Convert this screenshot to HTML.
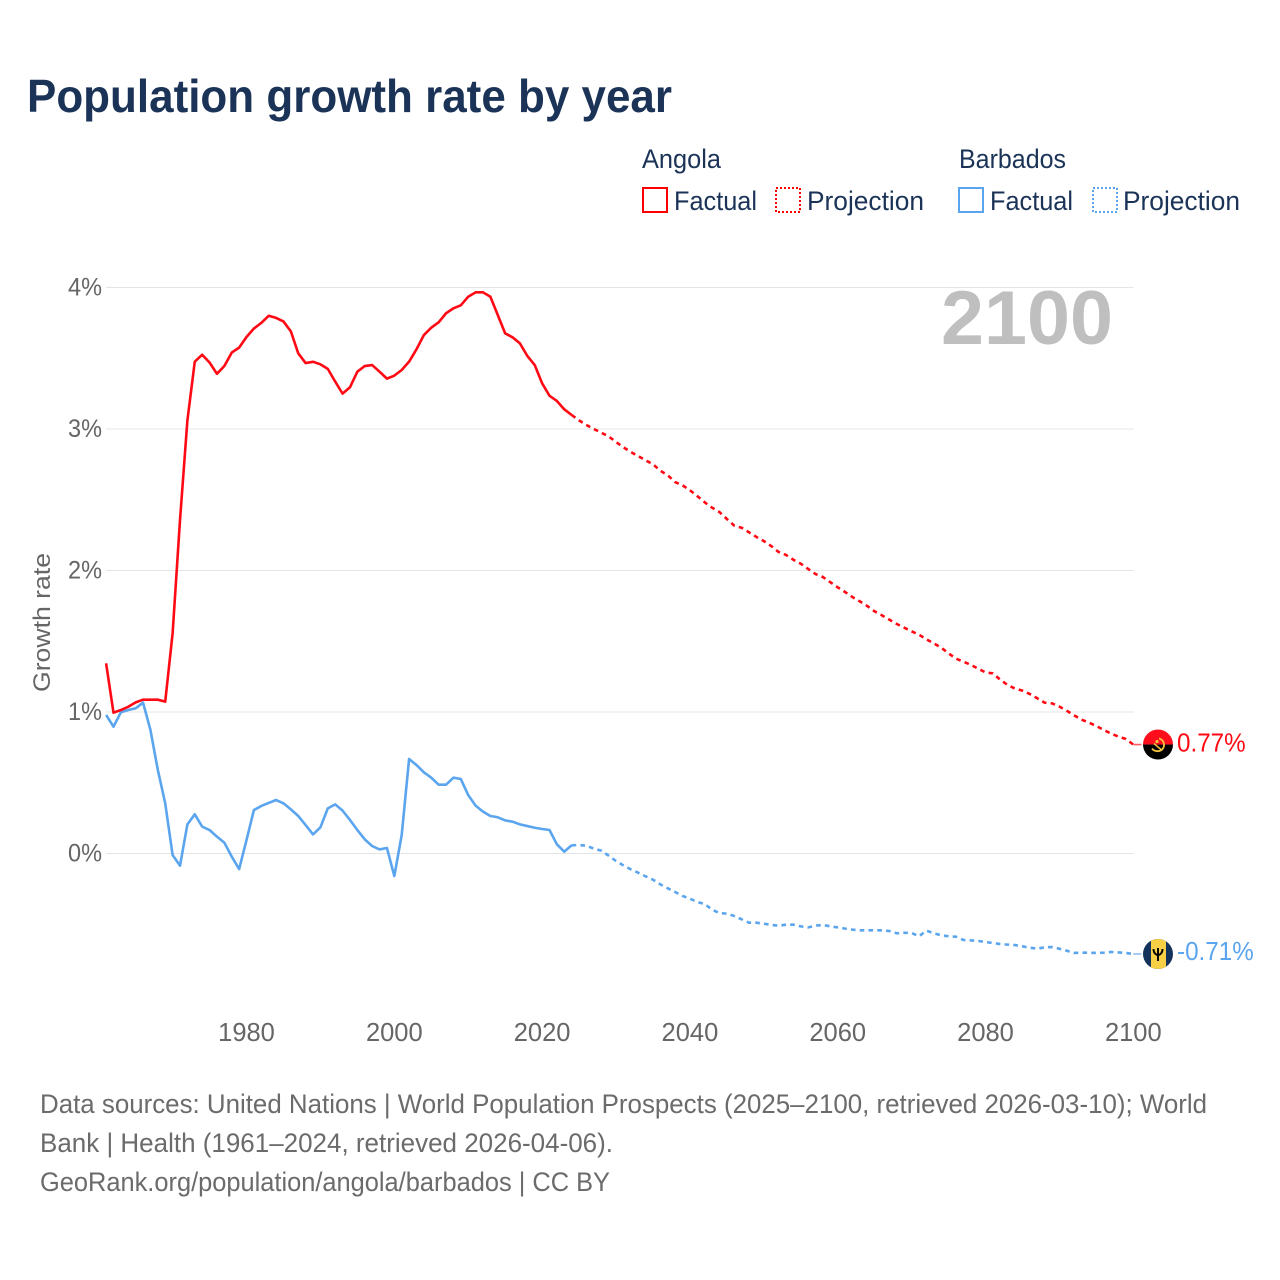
<!DOCTYPE html>
<html lang="en">
<head>
<meta charset="utf-8">
<title>Population growth rate by year</title>
<style>
html,body{margin:0;padding:0;background:#fff;}
svg{display:block;font-family:"Liberation Sans",sans-serif;}
</style>
</head>
<body>
<svg id="chart" xmlns="http://www.w3.org/2000/svg" width="1280" height="1280" viewBox="0 0 1280 1280">
  <rect width="1280" height="1280" fill="#ffffff"/>
  <text x="27" y="112" font-size="46" font-weight="700" fill="#1a3357" textLength="645" lengthAdjust="spacingAndGlyphs">Population growth rate by year</text>

  <g font-size="27" fill="#1a3357">
    <text x="642" y="168" textLength="79" lengthAdjust="spacingAndGlyphs">Angola</text>
    <rect x="643" y="188" width="24" height="24" fill="none" stroke="#ff0000" stroke-width="2"/>
    <text x="674" y="210" textLength="83" lengthAdjust="spacingAndGlyphs">Factual</text>
    <rect x="776" y="188" width="24" height="24" fill="none" stroke="#ff0000" stroke-width="2" stroke-dasharray="2 2"/>
    <text x="807" y="210" textLength="117" lengthAdjust="spacingAndGlyphs">Projection</text>
    <text x="959" y="168" textLength="107" lengthAdjust="spacingAndGlyphs">Barbados</text>
    <rect x="959" y="188" width="24" height="24" fill="none" stroke="#5aa5ee" stroke-width="2"/>
    <text x="990" y="210" textLength="83" lengthAdjust="spacingAndGlyphs">Factual</text>
    <rect x="1093" y="188" width="24" height="24" fill="none" stroke="#5aa5ee" stroke-width="2" stroke-dasharray="2 2"/>
    <text x="1123" y="210" textLength="117" lengthAdjust="spacingAndGlyphs">Projection</text>
  </g>

  <g id="grid"></g>
  <g id="y-ticks"></g>
  <g id="x-ticks"></g>

  <text transform="translate(50 622.5) rotate(-90)" text-anchor="middle" font-size="24.5" fill="#666666" textLength="139" lengthAdjust="spacingAndGlyphs">Growth rate</text>
  <text x="1113" y="344" text-anchor="end" font-size="76" font-weight="700" fill="#bfbfbf" textLength="172" lengthAdjust="spacingAndGlyphs">2100</text>

  <g id="series"></g>

  <g id="flag-angola">
    <clipPath id="clip-a"><circle cx="0" cy="0" r="15"/></clipPath>
    <g clip-path="url(#clip-a)">
      <rect x="-15" y="-15" width="30" height="15" fill="#ff0d1c"/>
      <rect x="-15" y="0" width="30" height="15" fill="#000000"/>
    </g>
    <path d="M1 -6 A6.5 6.5 0 0 1 4 5 A7 7 0 0 1 -6 4" fill="none" stroke="#f5c542" stroke-width="1.8"/>
    <path d="M-4 -1 L3 5" fill="none" stroke="#f5c542" stroke-width="1.6"/>
    <circle cx="-1" cy="-3" r="1.6" fill="#f5c542"/>
  </g>
  <g id="flag-barbados">
    <clipPath id="clip-b"><circle cx="0" cy="0" r="15"/></clipPath>
    <g clip-path="url(#clip-b)">
      <rect x="-15" y="-15" width="30" height="30" fill="#14335c"/>
      <rect x="-7" y="-15" width="15" height="30" fill="#f7d046"/>
    </g>
    <path d="M-4.5 -5 C-4.5 -1 -2 1 0 1 C2 1 4.5 -1 4.5 -5 M0 -6 V7" fill="none" stroke="#000000" stroke-width="1.9"/>
  </g>
  <g id="end-labels"></g>

  <g font-size="26.5" fill="#6b6b6b">
    <text x="40" y="1113" textLength="1167" lengthAdjust="spacingAndGlyphs">Data sources: United Nations | World Population Prospects (2025–2100, retrieved 2026-03-10); World</text>
    <text x="40" y="1152" textLength="573" lengthAdjust="spacingAndGlyphs">Bank | Health (1961–2024, retrieved 2026-04-06).</text>
    <text x="40" y="1191" textLength="570" lengthAdjust="spacingAndGlyphs">GeoRank.org/population/angola/barbados | CC BY</text>
  </g>
</svg>

<script>
const yTickValues = [0, 1, 2, 3, 4];
const xTickYears = [1980, 2000, 2020, 2040, 2060, 2080, 2100];
const factualFirstYear = 1961;
const projectionFirstYear = 2025;

const angolaFactual = [
  1.344, 0.995, 1.014, 1.037, 1.068, 1.087, 1.087, 1.087, 1.073, 1.556,
  2.356, 3.060, 3.476, 3.525, 3.470, 3.390, 3.445, 3.540, 3.575, 3.650,
  3.710, 3.750, 3.800, 3.785, 3.760, 3.690, 3.535, 3.466, 3.475, 3.457,
  3.425, 3.335, 3.250, 3.295, 3.405, 3.445, 3.452, 3.405, 3.356, 3.377,
  3.417, 3.476, 3.563, 3.664, 3.716, 3.754, 3.818, 3.853, 3.874, 3.935,
  3.966, 3.966, 3.935, 3.806, 3.676, 3.648, 3.605, 3.516, 3.452, 3.323,
  3.235, 3.198, 3.139, 3.099
];
const angolaProjection = [
  3.061, 3.028, 3.000, 2.974, 2.948, 2.908, 2.871, 2.837, 2.809, 2.779,
  2.751, 2.705, 2.673, 2.625, 2.602, 2.567, 2.526, 2.482, 2.444, 2.413,
  2.364, 2.317, 2.302, 2.270, 2.237, 2.208, 2.173, 2.131, 2.110, 2.076,
  2.048, 2.011, 1.975, 1.954, 1.917, 1.881, 1.848, 1.812, 1.782, 1.749,
  1.711, 1.683, 1.652, 1.622, 1.596, 1.570, 1.546, 1.514, 1.485, 1.455,
  1.415, 1.377, 1.356, 1.334, 1.306, 1.280, 1.273, 1.228, 1.191, 1.165,
  1.151, 1.127, 1.097, 1.066, 1.061, 1.038, 1.009, 0.976, 0.946, 0.925,
  0.901, 0.873, 0.847, 0.826, 0.809, 0.770
];
const barbadosFactual = [
  0.979, 0.896, 0.998, 1.014, 1.026, 1.066, 0.873, 0.590, 0.355, -0.011,
  -0.086, 0.206, 0.277, 0.190, 0.166, 0.119, 0.077, -0.022, -0.110, 0.095,
  0.307, 0.336, 0.357, 0.378, 0.355, 0.312, 0.265, 0.201, 0.135, 0.185,
  0.319, 0.347, 0.303, 0.237, 0.166, 0.100, 0.053, 0.029, 0.039, -0.159,
  0.131, 0.668, 0.625, 0.574, 0.536, 0.486, 0.486, 0.536, 0.526, 0.413,
  0.338, 0.296, 0.265, 0.256, 0.234, 0.225, 0.206, 0.194, 0.182, 0.173,
  0.166, 0.065, 0.013, 0.058
];
const barbadosProjection = [
  0.060, 0.055, 0.034, 0.020, -0.015, -0.053, -0.084, -0.112, -0.136, -0.161,
  -0.185, -0.218, -0.246, -0.272, -0.300, -0.319, -0.343, -0.357, -0.397, -0.421,
  -0.425, -0.442, -0.465, -0.489, -0.489, -0.496, -0.505, -0.510, -0.503, -0.503,
  -0.515, -0.522, -0.510, -0.505, -0.515, -0.522, -0.531, -0.538, -0.543, -0.543,
  -0.543, -0.543, -0.548, -0.564, -0.560, -0.562, -0.585, -0.545, -0.564, -0.578,
  -0.585, -0.588, -0.611, -0.614, -0.618, -0.625, -0.633, -0.640, -0.644, -0.647,
  -0.656, -0.666, -0.673, -0.663, -0.661, -0.673, -0.687, -0.703, -0.701, -0.701,
  -0.703, -0.701, -0.696, -0.699, -0.703, -0.710
];

const NS = 'http://www.w3.org/2000/svg';
const RED = '#ff0a14';
const BLUE = '#5aa5ee';
function xScale(year) { return 106.1 + (year - 1961) * 7.39; }
function yScale(value) { return 853.5 - value * 141.5; }
function linePath(firstYear, values, lead) {
  const pts = values.map(function (v, i) { return xScale(firstYear + i).toFixed(2) + ' ' + yScale(v).toFixed(2); });
  if (lead !== undefined) { pts.unshift(xScale(firstYear - 1).toFixed(2) + ' ' + yScale(lead).toFixed(2)); }
  return 'M' + pts.join(' L');
}
function make(tag, parentId) {
  const el = document.createElementNS(NS, tag);
  document.getElementById(parentId).appendChild(el);
  return el;
}

yTickValues.forEach(function (v) {
  const g = make('line', 'grid');
  
  
  g.setAttribute('x1', 106);
  g.setAttribute('x2', 1133.5);
  g.setAttribute('y1', yScale(v));
  g.setAttribute('y2', yScale(v));
  g.setAttribute('stroke', '#e4e4e4');
  g.setAttribute('stroke-width', 1);

  const t = make('text', 'y-ticks');
  
  
  t.setAttribute('x', 102);
  t.setAttribute('y', yScale(v) + 8);
  t.setAttribute('text-anchor', 'end');
  t.setAttribute('font-size', 25);
  t.setAttribute('fill', '#666666');
  t.setAttribute('textLength', 34);
  t.setAttribute('lengthAdjust', 'spacingAndGlyphs');
  t.textContent = v + '%';
});

xTickYears.forEach(function (y) {
  const t = make('text', 'x-ticks');
  
  
  t.setAttribute('x', xScale(y));
  t.setAttribute('y', 1041);
  t.setAttribute('text-anchor', 'middle');
  t.setAttribute('font-size', 25.5);
  t.setAttribute('fill', '#666666');
  t.textContent = y;
});

function styleLine(el, color, dashed) {
  el.setAttribute('fill', 'none');
  el.setAttribute('stroke', color);
  el.setAttribute('stroke-width', dashed ? 2.6 : 2.6);
  el.setAttribute('stroke-linejoin', 'round');
  if (dashed) { el.setAttribute('stroke-dasharray', '4.6 4.2'); }
}

const barbadosFactualLine = make('path', 'series');


barbadosFactualLine.setAttribute('d', linePath(factualFirstYear, barbadosFactual));
styleLine(barbadosFactualLine, BLUE, false);

const barbadosProjectionLine = make('path', 'series');


barbadosProjectionLine.setAttribute('d', linePath(projectionFirstYear, barbadosProjection, barbadosFactual[barbadosFactual.length - 1]));
styleLine(barbadosProjectionLine, BLUE, true);

const angolaFactualLine = make('path', 'series');


angolaFactualLine.setAttribute('d', linePath(factualFirstYear, angolaFactual));
styleLine(angolaFactualLine, RED, false);

const angolaProjectionLine = make('path', 'series');


angolaProjectionLine.setAttribute('d', linePath(projectionFirstYear, angolaProjection, angolaFactual[angolaFactual.length - 1]));
styleLine(angolaProjectionLine, RED, true);

const angolaLast = angolaProjection[angolaProjection.length - 1];
const barbadosLast = barbadosProjection[barbadosProjection.length - 1];
const lastX = xScale(2100);

const angolaConnector = make('line', 'series');


angolaConnector.setAttribute('x1', lastX);
angolaConnector.setAttribute('x2', lastX + 8);
angolaConnector.setAttribute('y1', yScale(angolaLast));
angolaConnector.setAttribute('y2', yScale(angolaLast));
angolaConnector.setAttribute('stroke', '#ff5a60');
angolaConnector.setAttribute('stroke-width', 1.6);

const barbadosConnector = make('line', 'series');


barbadosConnector.setAttribute('x1', lastX);
barbadosConnector.setAttribute('x2', lastX + 8);
barbadosConnector.setAttribute('y1', yScale(barbadosLast));
barbadosConnector.setAttribute('y2', yScale(barbadosLast));
barbadosConnector.setAttribute('stroke', '#8dbff2');
barbadosConnector.setAttribute('stroke-width', 1.6);

document.getElementById('flag-angola').setAttribute('transform', 'translate(1158 ' + yScale(angolaLast) + ')');
document.getElementById('flag-barbados').setAttribute('transform', 'translate(1158 ' + yScale(barbadosLast) + ')');

const angolaValueLabel = make('text', 'end-labels');


angolaValueLabel.setAttribute('x', 1177);
angolaValueLabel.setAttribute('y', yScale(angolaLast) + 7);
angolaValueLabel.setAttribute('font-size', 25.5);
angolaValueLabel.setAttribute('fill', RED);
angolaValueLabel.textContent = angolaLast.toFixed(2) + '%';

const barbadosValueLabel = make('text', 'end-labels');


barbadosValueLabel.setAttribute('x', 1177);
barbadosValueLabel.setAttribute('y', yScale(barbadosLast) + 6);
barbadosValueLabel.setAttribute('font-size', 25.5);
barbadosValueLabel.setAttribute('fill', BLUE);
barbadosValueLabel.textContent = barbadosLast.toFixed(2) + '%';

[angolaValueLabel, barbadosValueLabel].forEach(function (el) {
  el.setAttribute('textLength', (el.getComputedTextLength() * 0.95).toFixed(1));
  el.setAttribute('lengthAdjust', 'spacingAndGlyphs');
});
</script>
</body>
</html>
